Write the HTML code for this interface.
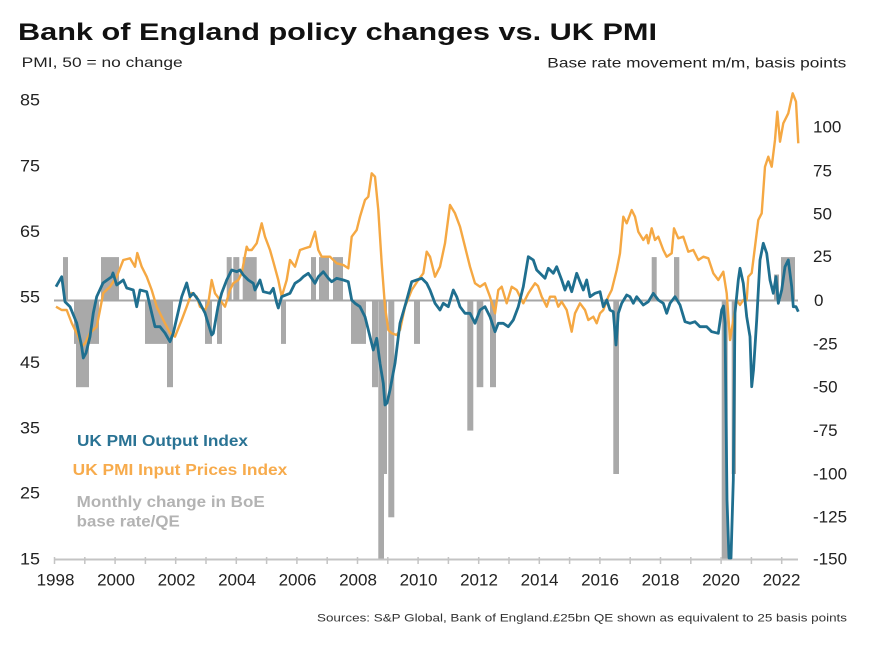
<!DOCTYPE html>
<html>
<head>
<meta charset="utf-8">
<style>
  html,body{margin:0;padding:0;background:#fff;}
  svg{display:block;}
  text{font-family:"Liberation Sans", Arial, sans-serif;}
</style>
</head>
<body>
<svg width="878" height="646" viewBox="0 0 878 646" xmlns="http://www.w3.org/2000/svg">
  <rect x="0" y="0" width="878" height="646" fill="#fff"/>

  <!-- Title -->
  <text x="18" y="40" font-size="24" font-weight="bold" fill="#111" textLength="639" lengthAdjust="spacingAndGlyphs">Bank of England policy changes vs. UK PMI</text>
  <text x="21.7" y="67" font-size="14" fill="#222" textLength="161" lengthAdjust="spacingAndGlyphs">PMI, 50 = no change</text>
  <text x="547.3" y="67.5" font-size="14" fill="#222" textLength="299" lengthAdjust="spacingAndGlyphs">Base rate movement m/m, basis points</text>

  <!-- Left axis labels -->
  <g font-size="17" fill="#222">
    <text x="20" y="105.5" textLength="20" lengthAdjust="spacingAndGlyphs">85</text>
    <text x="20" y="171.3" textLength="20" lengthAdjust="spacingAndGlyphs">75</text>
    <text x="20" y="237" textLength="20" lengthAdjust="spacingAndGlyphs">65</text>
    <text x="20" y="302.7" textLength="20" lengthAdjust="spacingAndGlyphs">55</text>
    <text x="20" y="368" textLength="20" lengthAdjust="spacingAndGlyphs">45</text>
    <text x="20" y="433.3" textLength="20" lengthAdjust="spacingAndGlyphs">35</text>
    <text x="20" y="498.7" textLength="20" lengthAdjust="spacingAndGlyphs">25</text>
    <text x="20" y="564.3" textLength="20" lengthAdjust="spacingAndGlyphs">15</text>
  </g>

  <!-- Right axis labels -->
  <g font-size="17" fill="#222">
    <text x="813" y="132.7">100</text>
    <text x="813" y="176.7">75</text>
    <text x="813" y="219.3">50</text>
    <text x="813" y="262">25</text>
    <text x="814" y="306">0</text>
    <text x="813" y="349.3">-25</text>
    <text x="813" y="392.7">-50</text>
    <text x="813" y="436">-75</text>
    <text x="813" y="479.3">-100</text>
    <text x="813" y="522.7">-125</text>
    <text x="813" y="564.3">-150</text>
  </g>

  <!-- Bars (basis points) -->
  <g fill="#a9a9a9">
    <rect x="63" y="257.1" width="5" height="43.4"/>
    <rect x="74" y="300.5" width="25" height="43.4"/>
    <rect x="76" y="300.5" width="13" height="86.7"/>
    <rect x="101" y="257.1" width="18" height="43.4"/>
    <rect x="145" y="300.5" width="22" height="43.4"/>
    <rect x="167" y="300.5" width="6" height="86.7"/>
    <rect x="205" y="300.5" width="7" height="43.4"/>
    <rect x="217" y="300.5" width="5" height="43.4"/>
    <rect x="226.7" y="257.1" width="5" height="43.4"/>
    <rect x="233.3" y="257.1" width="6" height="43.4"/>
    <rect x="242.7" y="257.1" width="14" height="43.4"/>
    <rect x="281" y="300.5" width="5" height="43.4"/>
    <rect x="311" y="257.1" width="5" height="43.4"/>
    <rect x="319" y="257.1" width="10" height="43.4"/>
    <rect x="333" y="257.1" width="10" height="43.4"/>
    <rect x="351" y="300.5" width="15" height="43.4"/>
    <rect x="372" y="300.5" width="6" height="86.7"/>
    <rect x="378.3" y="300.5" width="5.7" height="258.8"/>
    <rect x="384" y="300.5" width="3" height="173.5"/>
    <rect x="388.3" y="300.5" width="6" height="216.8"/>
    <rect x="414" y="300.5" width="6" height="43.4"/>
    <rect x="467.3" y="300.5" width="6" height="130.1"/>
    <rect x="476.7" y="300.5" width="6.6" height="86.7"/>
    <rect x="490" y="300.5" width="6" height="86.7"/>
    <rect x="613.3" y="300.5" width="5.7" height="173.5"/>
    <rect x="651.7" y="257.1" width="5" height="43.4"/>
    <rect x="674" y="257.1" width="5.3" height="43.4"/>
    <rect x="721.7" y="300.5" width="6" height="258.8"/>
    <rect x="731.7" y="300.5" width="4.3" height="173.5"/>
    <rect x="774" y="274.5" width="5" height="26"/>
    <rect x="781" y="257.1" width="14" height="43.4"/>
  </g>

  <!-- Zero line -->
  <line x1="54" y1="300.5" x2="798" y2="300.5" stroke="#a6a6a6" stroke-width="2"/>

  <!-- Bottom axis -->
  <line x1="54" y1="559.5" x2="798" y2="559.5" stroke="#c4c4c4" stroke-width="2"/>
  <g stroke="#c4c4c4" stroke-width="1.5">
    <line x1="54.5" y1="557" x2="54.5" y2="564"/>
    <line x1="84.8" y1="557" x2="84.8" y2="564"/>
    <line x1="115.1" y1="557" x2="115.1" y2="564"/>
    <line x1="145.4" y1="557" x2="145.4" y2="564"/>
    <line x1="175.7" y1="557" x2="175.7" y2="564"/>
    <line x1="206" y1="557" x2="206" y2="564"/>
    <line x1="236.3" y1="557" x2="236.3" y2="564"/>
    <line x1="266.6" y1="557" x2="266.6" y2="564"/>
    <line x1="296.9" y1="557" x2="296.9" y2="564"/>
    <line x1="327.2" y1="557" x2="327.2" y2="564"/>
    <line x1="357.5" y1="557" x2="357.5" y2="564"/>
    <line x1="387.8" y1="557" x2="387.8" y2="564"/>
    <line x1="418.1" y1="557" x2="418.1" y2="564"/>
    <line x1="448.4" y1="557" x2="448.4" y2="564"/>
    <line x1="478.7" y1="557" x2="478.7" y2="564"/>
    <line x1="509" y1="557" x2="509" y2="564"/>
    <line x1="539.3" y1="557" x2="539.3" y2="564"/>
    <line x1="569.6" y1="557" x2="569.6" y2="564"/>
    <line x1="599.9" y1="557" x2="599.9" y2="564"/>
    <line x1="630.2" y1="557" x2="630.2" y2="564"/>
    <line x1="660.5" y1="557" x2="660.5" y2="564"/>
    <line x1="690.8" y1="557" x2="690.8" y2="564"/>
    <line x1="721.1" y1="557" x2="721.1" y2="564"/>
    <line x1="751.4" y1="557" x2="751.4" y2="564"/>
    <line x1="781.7" y1="557" x2="781.7" y2="564"/>
  </g>

  <!-- X labels -->
  <g font-size="17" fill="#222" text-anchor="middle">
    <text x="55.5" y="585.5">1998</text>
    <text x="116" y="585.5">2000</text>
    <text x="176.5" y="585.5">2002</text>
    <text x="237" y="585.5">2004</text>
    <text x="297.5" y="585.5">2006</text>
    <text x="358" y="585.5">2008</text>
    <text x="418.5" y="585.5">2010</text>
    <text x="479" y="585.5">2012</text>
    <text x="539.5" y="585.5">2014</text>
    <text x="600" y="585.5">2016</text>
    <text x="660.5" y="585.5">2018</text>
    <text x="721" y="585.5">2020</text>
    <text x="781.5" y="585.5">2022</text>
  </g>

  <!-- Orange: Input prices -->
  <polyline fill="none" stroke="#f5a843" stroke-width="2.4" stroke-linejoin="round" points="
56,306.7 61.7,310 66.7,310 71.7,323 78.3,336.7 81.7,346.7 85,343.3 90,333 96.7,326.7 100,310 103.3,293 110,286.7 116.7,276.7 123.3,260 130,258.3 135,266.7 137.3,253 141.7,266.7 146.7,276.7 151.7,290 156.7,306.7 163.3,320 170,333 175,336.7 181.7,320 186.7,306.7 191.7,293 196.7,296.7 200,306.7 205,310 208.3,303.3 211.7,280 215,293.3 220,300 225,306.7 230,290 233.3,283.3 238.3,280 241.7,273.3 246.7,246.7 248.3,250 251.7,250 256.7,243.3 261.7,223.3 265,236.7 270,250 273.3,261.7 278.3,280 281.7,296.7 286.7,280 290,260 295,266.7 300,250 305,248.3 310,246.7 315,231.7 318.3,250 321.7,256.7 330,256.7 336.7,263.3 343.3,265 348.3,268.3 351.7,236.7 356.7,230 360,216.7 365,200 368.3,196.7 371.7,173.3 375,176.7 378.3,210 381.7,263.3 385,306.7 388.3,330 391.7,333.3 396.7,335 400,330 405,306.7 411.7,290 418.3,280 423.3,273.3 426.7,251.7 430,256.7 435,276.7 440,266.7 445,243.3 450,205 455,213.3 460,226.7 465,246.7 470,266.7 475,283.3 480,286.7 485,283.3 490,296.7 495,313.3 498.3,290 501.7,286.7 506.7,303.3 511.7,286.7 516.7,290 523.3,303.3 528.3,293.3 535,283.3 538,286 541.7,296.7 546.7,306.7 550,296.7 555,296.7 558.3,306.7 561.7,301.7 566.7,310 571.7,331.7 575,313.3 580,303.3 585,310 588.3,320 593.3,316.7 596.7,323.3 600,313.3 603.3,310 608.3,296.7 611.7,290 616.7,270 620,253.3 623.3,216.7 626.7,223.3 631.7,210 635,216.7 638.3,231.7 643.3,240 646.7,235 648.3,243.3 651.7,228.3 655,240 658.3,236.7 663.3,250 666.7,256.7 671.7,253.3 674,228.3 678.3,238.3 683.3,236.7 688.3,251.7 693.3,250 698.3,260 703.3,256.7 708.3,258.3 713.3,273.3 718.3,280 723.3,271.7 726.7,293.3 730,340 733.3,320 736.7,300 740,305 743.3,300 746.7,300 748.3,276.7 751.7,273 755,246.7 758.3,220 761.7,213.3 765,166.7 768.3,156.7 771.7,166.7 775,140 777.3,111.7 780,141.7 783.3,123.3 788.3,113.3 792.7,93.3 796,101.7 798.3,143.3"/>

  <!-- Teal: Output -->
  <polyline fill="none" stroke="#1f6f8f" stroke-width="2.8" stroke-linejoin="round" points="
56,286.7 61.7,276.7 65,301.7 70,306.7 76.7,323 81.7,346.7 83.3,358 86,353 90,336.7 93.3,313 96.7,296.7 103,283 111.7,276.7 113,273 116.7,285 123.3,280 126.7,288 133.3,290 136.7,306.7 140,290 146.7,291.7 151.7,313 155,326.7 160,326.7 165,333 170,341.7 173.3,333 181.7,296.7 186.7,283 190,296.7 193.3,293.3 198.3,300 205,313 211.7,335 213.3,333.3 218,306.7 221.7,293 226.7,280 231.7,270 236.7,271.7 240,270 243.3,275 248.3,280 253.3,283.3 255,290 260,280 263.3,291.7 270,293.3 273.3,288.3 276.7,303 278.3,308 281.7,296.7 290,293.3 295,283.3 300,280 303.3,276.7 308.3,273.3 311.7,278.3 315,283.3 318.3,276.7 323.3,271.7 328.3,278.3 331.7,281.7 336.7,278.3 343.3,280 348.3,281.7 351.7,300 355,303.3 360,306.7 365,316.7 370,336.7 373.3,350 376.7,338.3 380,363.3 383.3,383.3 385,405 387,403 390,390 395,363.3 400,323.3 406.7,300 411.7,281.7 416.7,280 421.7,278.3 426.7,283.3 430,290 435,303.3 440,310 443.3,303.3 448.3,306.7 453.3,290 456.7,296.7 460,306.7 465,313.3 470,313.3 475,323.3 480,310 485,306.7 490,316.7 495,331.7 498.3,323.3 503.3,323.3 508.3,326.7 513.3,320 518.3,306.7 523.3,286.7 528.3,256.7 533.3,260 536.7,270 540,273.3 545,278.3 548.3,268.3 553.3,273.3 556.7,266.7 561.7,280 565,290 568.3,281.7 571.7,291.7 576.7,273.3 580,281.7 583.3,290 586.7,280 590,296.7 595,293.3 600,291.7 603.3,306.7 606.7,300 610,310 613.3,311.7 616,345 618.3,313.3 621.7,303.3 626.7,295 630,296.7 633.3,303.3 636.7,296.7 643.3,305 648.3,301.7 653.3,293.3 658.3,300 663.3,303.3 666.7,313.3 670,303.3 675,296.7 680,305 685,321.7 690,323.3 695,321.7 700,326.7 706.7,326.7 711.7,331.7 718.3,333.3 721.7,310 723.5,306 725,323.3 727,500 729,558 731,558 733.3,480 735,313 738.3,280 740,268.3 743.3,283.3 746.7,316.7 750,336.7 751.7,386.7 753.5,370 756.7,320 760,260 763.3,243.3 766.7,253.3 770,280 773.3,293.3 776,276.7 778.3,303.3 781.7,290 785,266.7 788.3,260 791.7,286.7 793.3,306.7 796,306.7 798.3,311.7"/>

  <!-- Legend -->
  <text x="77" y="446" font-size="15.5" font-weight="bold" fill="#2a7394" textLength="171" lengthAdjust="spacingAndGlyphs">UK PMI Output Index</text>
  <text x="72.7" y="475" font-size="15.5" font-weight="bold" fill="#f7ab4c" textLength="214.6" lengthAdjust="spacingAndGlyphs">UK PMI Input Prices Index</text>
  <text x="76.7" y="507" font-size="15.5" font-weight="bold" fill="#b3b3b3" textLength="188" lengthAdjust="spacingAndGlyphs">Monthly change in BoE</text>
  <text x="76.7" y="526.5" font-size="15.5" font-weight="bold" fill="#b3b3b3" textLength="103" lengthAdjust="spacingAndGlyphs">base rate/QE</text>

  <!-- Sources -->
  <text x="317" y="621.5" font-size="11" fill="#333" textLength="530" lengthAdjust="spacingAndGlyphs">Sources: S&amp;P Global, Bank of England.£25bn QE shown as equivalent to 25 basis points</text>
</svg>
</body>
</html>
